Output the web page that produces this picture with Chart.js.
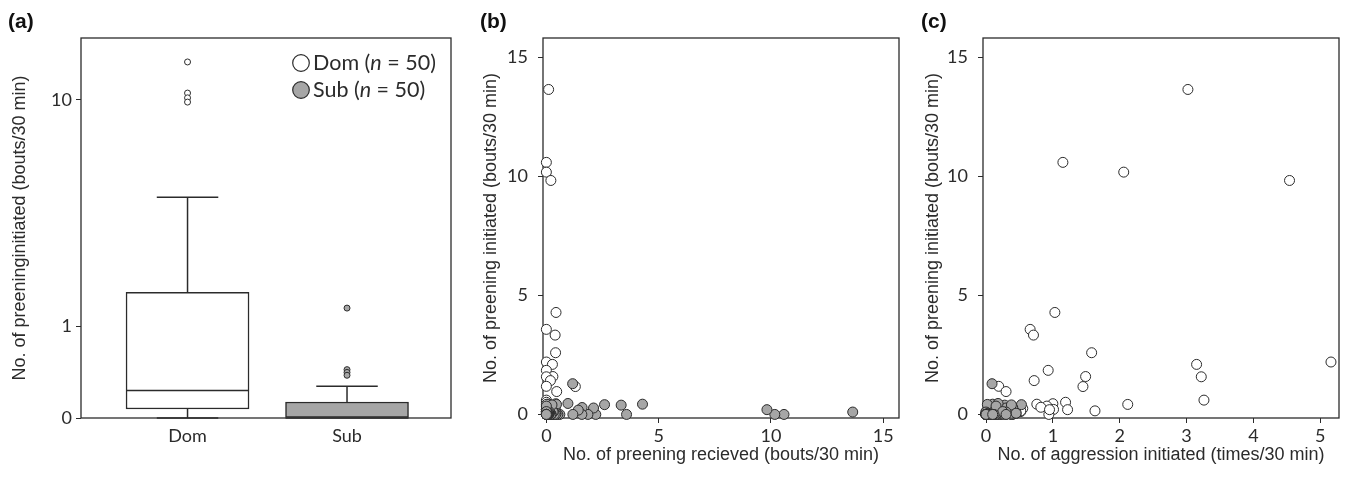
<!DOCTYPE html>
<html>
<head>
<meta charset="utf-8">
<script src="https://cdn.jsdelivr.net/npm/chart.js@4.4.1/dist/chart.umd.min.js"></script>
<style>
  html, body { margin: 0; padding: 0; background: #fff; }
  #wrap { position: relative; width: 1345px; height: 477px; }
  canvas { position: absolute; top: 0; }
</style>
</head>
<body>
<div id="wrap">
  <canvas id="boxChart" width="460" height="477" style="left:0px"></canvas>
  <canvas id="receivedChart" width="445" height="477" style="left:460px"></canvas>
  <canvas id="aggressionChart" width="440" height="477" style="left:905px"></canvas>
</div>
<script>
// one entry per dyad: preening initiated by the dominant / subordinate bird (bouts/30 min)
const domInitiated = [13.64, 10.58, 10.17, 9.82, 4.28, 3.57, 3.33, 2.59, 2.2, 2.1, 1.85, 1.59, 1.58, 1.42, 1.18, 1.17, 0.96, 0.6, 0.51, 0.45, 0.43, 0.42, 0.35, 0.3, 0.21, 0.2, 0.15, 0.12, 0, 0.25, 0.2, 0.15, 0.12, 0.1, 0.1, 0.08, 0.07, 0.05, 0.05, 0.03, 0, 0, 0, 0, 0, 0, 0, 0, 0, 0];
const subInitiated = [0.1, 0, 0, 0.2, 0.43, 0, 0.39, 0.41, 0, 0.27, 0, 0.29, 0, 0.18, 0, 1.29, 0.46, 0, 0, 0.42, 0.05, 0, 0, 0.1, 0, 0, 0.05, 0, 0, 0.4, 0, 0.1, 0, 0.1, 0, 0.05, 0, 0.05, 0, 0, 0.35, 0.12, 0, 0, 0, 0, 0, 0, 0, 0];
// aggression initiated (times/30 min)
const domAggression = [3.02, 1.15, 2.06, 4.54, 1.03, 0.66, 0.71, 1.58, 5.16, 3.15, 0.93, 1.49, 3.22, 0.72, 0.19, 1.45, 0.3, 3.26, 1.19, 1.0, 0.76, 2.12, 0.91, 0.82, 1.01, 1.22, 1.63, 0.52, 0.94, 0.55, 0.95, 0.52, 0, 0.35, 0.15, 0.05, 0.1, 0.25, 0.45, 0.2, 0, 0.02, 0.08, 0.3, 0.12, 0, 0.05, 0.4, 0.18, 0.22];
const subAggression = [0.15, 0, 0.05, 0.2, 0.1, 0, 0.28, 0.53, 0.2, 0.3, 0.38, 0.4, 0.1, 0.05, 0, 0.09, 0.18, 0.03, 0.25, 0.02, 0.23, 0, 0.12, 0, 0.05, 0.38, 0.38, 0, 0.15, 0.38, 0, 0.3, 0.08, 0.2, 0, 0.03, 0.1, 0.45, 0.05, 0, 0.15, 0.25, 0, 0.02, 0.06, 0, 0.3, 0.12, 0, 0.1];

// box plot summary per group
const groups = ['Dom', 'Sub'];
const groupN = [50, 50];
const boxLow = [0, 0];
const boxQ1 = [0.07, 0];
const boxMedian = [0.23, 0];
const boxQ3 = [1.58, 0.128];
const boxHigh = [4.28, 0.27];
const domOutliers = [13.64, 10.58, 10.17, 9.82];
const subOutliers = [1.29, 0.44, 0.41, 0.38];
const boxTicks = [0, 1, 10];

const ink = '#2b2b2b';
const grey = '#a6a6a6';
const tickFont = { family: 'Lato', size: 18 };
const titleFont = { family: '"Liberation Sans", Arial, sans-serif', size: 18 };

// box panel uses a log(x + 1) axis
const logp = v => Math.log10(v + 1);

// outer frame + panel letter
const framePlugin = {
  id: 'frame',
  beforeDatasetsDraw(chart, args, opts) {
    const { ctx, chartArea: a } = chart;
    ctx.save();
    ctx.strokeStyle = ink;
    ctx.lineWidth = 1.3;
    ctx.strokeRect(a.left, a.top, a.right - a.left, a.bottom - a.top);
    ctx.fillStyle = '#111';
    ctx.font = 'bold 21px "Liberation Sans", Arial, sans-serif';
    ctx.textBaseline = 'middle';
    ctx.fillText(opts.label, opts.x, 22);
    ctx.restore();
  }
};

// medians, whiskers and caps on top of the floating bars
const whiskerPlugin = {
  id: 'whiskers',
  afterDatasetsDraw(chart) {
    const { ctx, scales: { x, y } } = chart;
    const bars = chart.getDatasetMeta(2).data;
    const py = v => y.getPixelForValue(logp(v));
    const seg = (x1, y1, x2, y2) => { ctx.beginPath(); ctx.moveTo(x1, y1); ctx.lineTo(x2, y2); ctx.stroke(); };
    ctx.save();
    ctx.strokeStyle = ink;
    ctx.lineWidth = 1.5;
    groups.forEach((g, i) => {
      const cx = x.getPixelForValue(i + 1);
      const half = bars[i].width / 2;
      seg(cx - half, py(boxMedian[i]), cx + half, py(boxMedian[i]));
      seg(cx, py(boxQ3[i]), cx, py(boxHigh[i]));
      seg(cx - half / 2, py(boxHigh[i]), cx + half / 2, py(boxHigh[i]));
      if (boxQ1[i] > boxLow[i]) {
        seg(cx, py(boxQ1[i]), cx, py(boxLow[i]));
        seg(cx - half / 2, py(boxLow[i]), cx + half / 2, py(boxLow[i]));
      }
    });
    ctx.restore();
  }
};

// legend inside the box panel: "Dom (n = 50)"
const groupLegend = {
  id: 'groupLegend',
  afterDraw(chart) {
    const { ctx, chartArea: a } = chart;
    const fills = chart.data.datasets[2].backgroundColor;
    ctx.save();
    ctx.textBaseline = 'middle';
    groups.forEach((g, i) => {
      const cx = a.right - 150;
      const cy = a.top + 25 + i * 27;
      ctx.beginPath();
      ctx.arc(cx, cy, 8.3, 0, Math.PI * 2);
      ctx.fillStyle = fills[i];
      ctx.fill();
      ctx.strokeStyle = ink;
      ctx.lineWidth = 1.2;
      ctx.stroke();
      ctx.fillStyle = ink;
      let tx = cx + 12;
      const parts = [[g + ' (', 'normal'], ['n', 'italic'], [' = ' + groupN[i] + ')', 'normal']];
      parts.forEach(([t, style]) => {
        ctx.font = style + ' 21.5px Lato';
        ctx.fillText(t, tx, cy);
        tx += ctx.measureText(t).width;
      });
    });
    ctx.restore();
  }
};

const baseOptions = (rightPad) => ({
  responsive: false,
  devicePixelRatio: 1,
  animation: false,
  layout: { padding: { top: 38, right: rightPad, left: 0, bottom: 0 } },
  plugins: { legend: { display: false }, tooltip: { enabled: false } }
});

// (a) box plot
const boxOpts = baseOptions(9);
boxOpts.plugins.frame = { label: '(a)', x: 8 };
boxOpts.scales = {
  x: {
    type: 'linear', min: 0.332, max: 2.652, offset: false,
    afterBuildTicks: s => { s.ticks = groups.map((g, i) => ({ value: i + 1 })); },
    ticks: { callback: (v, i) => groups[i], font: tickFont, color: ink, padding: 7, maxRotation: 0 },
    grid: { display: true, drawOnChartArea: false, drawTicks: false, offset: false },
    border: { display: false },
    afterFit: s => { s.height = 59; }
  },
  y: {
    min: 0, max: 1.244,
    afterBuildTicks: s => { s.ticks = boxTicks.map(v => ({ value: logp(v) })); },
    ticks: { callback: (v, i) => String(boxTicks[i]), font: tickFont, color: ink, padding: 4 },
    grid: { drawOnChartArea: false, tickLength: 5, color: ink },
    border: { display: false },
    title: { display: true, text: 'No. of preeninginitiated (bouts/30 min)', font: titleFont, color: ink, padding: { top: 9, bottom: 0 } },
    afterFit: s => { s.width = 81; }
  }
};

new Chart(document.getElementById('boxChart'), {
  type: 'bar',
  data: {
    datasets: [
      {
        type: 'line', showLine: false, clip: false,
        data: domOutliers.map(v => ({ x: 1, y: logp(v) })),
        pointRadius: 3, pointBackgroundColor: '#fff', pointBorderColor: ink, pointBorderWidth: 1
      },
      {
        type: 'line', showLine: false, clip: false,
        data: subOutliers.map(v => ({ x: 2, y: logp(v) })),
        pointRadius: 3, pointBackgroundColor: grey, pointBorderColor: ink, pointBorderWidth: 1
      },
      {
        type: 'bar',
        data: groups.map((g, i) => ({ x: i + 1, y: [logp(boxQ1[i]), logp(boxQ3[i])] })),
        backgroundColor: ['#fff', grey], borderColor: ink, borderWidth: 1.5,
        borderSkipped: false, barThickness: 123
      }
    ]
  },
  options: boxOpts,
  plugins: [framePlugin, whiskerPlugin, groupLegend]
});

// (b) and (c) scatter panels
function scatterPanel(id, label, labelX, axisW, rightPad, titlePad, xRange, xStep, xTitle, domX, subX) {
  const opts = baseOptions(rightPad);
  opts.plugins.frame = { label: label, x: labelX };
  opts.scales = {
    x: {
      type: 'linear', min: xRange[0], max: xRange[1],
      ticks: { stepSize: xStep, includeBounds: false, font: tickFont, color: ink, padding: 2, maxRotation: 0 },
      grid: { drawOnChartArea: false, tickLength: 5, color: ink },
      border: { display: false },
      title: { display: true, text: xTitle, font: titleFont, color: ink, padding: { top: 0, bottom: 11 } },
      afterFit: s => { s.height = 59; }
    },
    y: {
      type: 'linear', min: -0.15, max: 15.8,
      ticks: { stepSize: 5, includeBounds: false, font: tickFont, color: ink, padding: 10 },
      grid: { drawOnChartArea: false, tickLength: 5, color: ink },
      border: { display: false },
      title: { display: true, text: 'No. of preening initiated (bouts/30 min)', font: titleFont, color: ink, padding: { top: titlePad, bottom: 0 } },
      afterFit: s => { s.width = axisW; }
    }
  };
  const point = { pointRadius: 5, pointBorderWidth: 1, pointBorderColor: ink, clip: false };
  return new Chart(document.getElementById(id), {
    type: 'scatter',
    data: {
      datasets: [
        Object.assign({ label: 'Sub', order: 0, pointBackgroundColor: grey,
          data: subInitiated.map((v, i) => ({ x: subX[i], y: v })) }, point),
        Object.assign({ label: 'Dom', order: 1, pointBackgroundColor: '#fff',
          data: domInitiated.map((v, i) => ({ x: domX[i], y: v })) }, point)
      ]
    },
    options: opts,
    plugins: [framePlugin]
  });
}

// preening received by one bird is what its partner initiated
scatterPanel('receivedChart', '(b)', 20, 83, 6, 20, [-0.15, 15.7], 5,
  'No. of preening recieved (bouts/30 min)', subInitiated, domInitiated);
scatterPanel('aggressionChart', '(c)', 16, 78, 5, 17, [-0.045, 5.28], 1,
  'No. of aggression initiated (times/30 min)', domAggression, subAggression);
</script>
</body>
</html>
